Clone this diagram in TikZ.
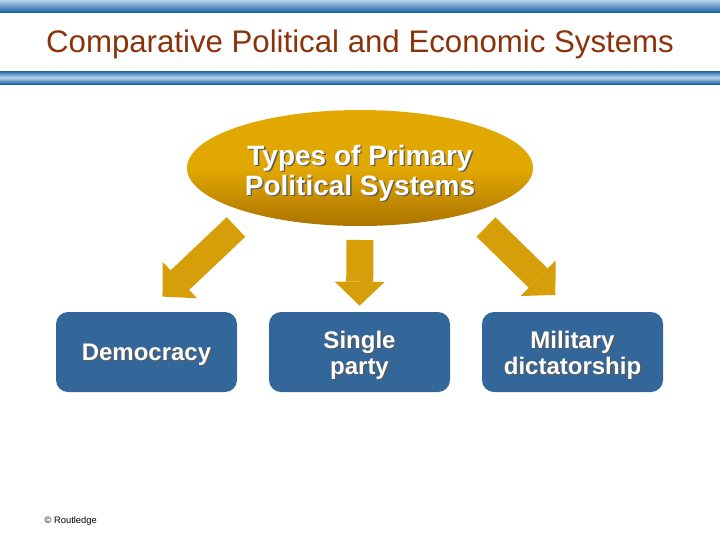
\documentclass[tikz,border=0pt]{standalone}
\usepackage{fontspec}
\setmainfont{Liberation Sans}
\usepackage{tikz}
\usetikzlibrary{arrows.meta}
\usetikzlibrary{shapes.geometric}
\definecolor{boxblue}{RGB}{51,102,153}
\definecolor{gold}{RGB}{214,158,8}
\definecolor{goldlight}{RGB}{226,168,2}
\definecolor{golddark}{RGB}{172,116,0}
\definecolor{titlebrown}{RGB}{140,50,10}
\definecolor{bandblue}{RGB}{28,98,165}
\definecolor{bandlight}{RGB}{185,212,235}
\newcommand{\shtext}[1]{\leavevmode\rlap{\kern1pt\raisebox{-1pt}{\textcolor{black!65}{#1}}}#1}
\newcommand{\lowered}[2]{\raisebox{-#1}[\height][\depth]{\begin{tabular}{@{}c@{}}#2\end{tabular}}}
\tikzset{
sysbox/.style={rectangle, rounded corners=9pt, fill=boxblue, text=white,
  font=\bfseries\fontsize{18}{19.5}\selectfont, minimum width=135.75pt, minimum height=60pt},
bigarrow/.style={draw=gold, line width=20.25pt, -{Triangle[width=37.5pt, length=18pt, line width=0pt]}}
}

\begin{document}
\begin{tikzpicture}[x=0.75pt, y=-0.75pt]
\useasboundingbox (0,0) rectangle (720,540);
% header bands and title
\shade [top color=bandlight, bottom color=bandblue] (0,0) rectangle (720,12);
\shade [top color=bandblue, bottom color=bandblue, middle color=bandlight] (0,71) rectangle (720,84);
\node [text=titlebrown, font=\fontsize{23.4}{28}\selectfont] (title) at (360,44) {Comparative Political and Economic Systems};

\node [ellipse, top color=goldlight, bottom color=golddark, middle color=goldlight, inner sep=0pt,
  minimum width=259.5pt, minimum height=87pt, text=white,
  font=\bfseries\fontsize{21}{22.5}\selectfont] (types) at (360,168)
  {\lowered{4.5pt}{\shtext{Types of Primary}\\\shtext{Political Systems}}};

\node [sysbox] (demo) at (146.5,352) {\lowered{2.5pt}{\shtext{Democracy}}};
\node [sysbox] (single) at (359.5,352) {\lowered{3pt}{\shtext{Single}\\\shtext{party}}};
\node [sysbox] (military) at (572.5,352) {\lowered{3pt}{\shtext{Military}\\\shtext{dictatorship}}};

\coordinate (demotail) at (236,227);
\coordinate (singletail) at (360,240);
\coordinate (militarytail) at (486,227);
\draw [bigarrow, shorten >=16.5pt] (demotail) -- (demo.north);
\draw [bigarrow, shorten >=4.5pt] (singletail) -- (single.north);
\draw [bigarrow, shorten >=18pt] (militarytail) -- (military.north);

\node [font=\fontsize{7}{8}\selectfont, anchor=west] (copy) at (40,521) {© Routledge};
\end{tikzpicture}
\end{document}
